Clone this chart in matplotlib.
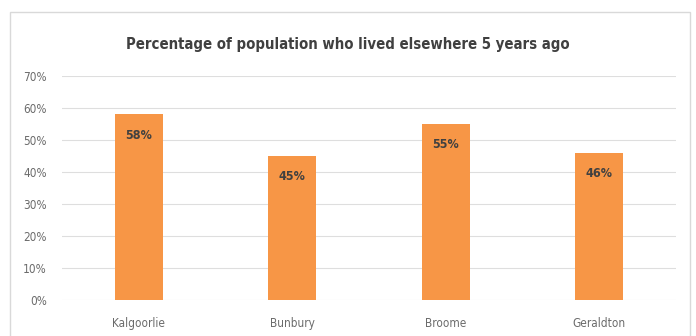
import matplotlib
matplotlib.use("Agg")
import matplotlib.pyplot as plt
from matplotlib.patches import Rectangle
from matplotlib import font_manager

categories = ["Kalgoorlie", "Bunbury", "Broome", "Geraldton"]
values = [58, 45, 55, 46]
yticks = [0, 10, 20, 30, 40, 50, 60, 70]
title = "Percentage of population who lived elsewhere 5 years ago"

reg = None
bold = None
for f in font_manager.fontManager.ttflist:
    fn = f.fname.lower()
    if ("condensed" in fn or "narrow" in fn) and "oblique" not in fn and "italic" not in fn:
        if "bold" in fn:
            bold = bold or f.fname
        else:
            reg = reg or f.fname
fp_reg = font_manager.FontProperties(fname=reg) if reg else font_manager.FontProperties(family="DejaVu Sans")
fp_bold = font_manager.FontProperties(fname=bold) if bold else font_manager.FontProperties(family="DejaVu Sans", weight="bold")

fig = plt.figure(figsize=(6.96, 3.36), dpi=100)
fig.patches.append(Rectangle((10/696, -0.1), 680/696, 1 - 12/336 + 0.1,
                             transform=fig.transFigure, fill=False,
                             edgecolor="#d9d9d9", linewidth=1.0))
ax = fig.add_axes([62/696, 1 - 300/336, 614/696, 224/336])
x = range(len(categories))
bars = ax.bar(x, values, width=0.31, color="#f79646", zorder=2)
for xi, v in zip(x, values):
    t = ax.text(xi, v - 6.5, f"{v}%", ha="center", va="center",
                color="#404040", zorder=3, fontproperties=fp_bold)
    t.set_fontsize(9)
ax.set_xlim(-0.5, len(categories) - 0.5)
ax.set_ylim(0, 70)
ax.set_yticks(yticks)
ax.set_yticklabels([f"{t}%" for t in yticks])
ax.set_xticks(list(x))
ax.set_xticklabels(categories)
for lab in ax.get_yticklabels() + ax.get_xticklabels():
    lab.set_fontproperties(fp_reg)
    lab.set_fontsize(8.5)
    lab.set_color("#6b6b6b")
ax.grid(axis="y", color="#dedede", linewidth=0.8, zorder=0)
for s in ax.spines.values():
    s.set_visible(False)
ax.tick_params(axis="both", length=0)
ax.tick_params(axis="y", pad=11)
ax.tick_params(axis="x", pad=12)
tt = fig.text(0.5, 1 - 45/336, title, ha="center", va="center",
              color="#404040", fontproperties=fp_bold)
tt.set_fontsize(10.7)
fig.savefig("out.png", dpi=100)
